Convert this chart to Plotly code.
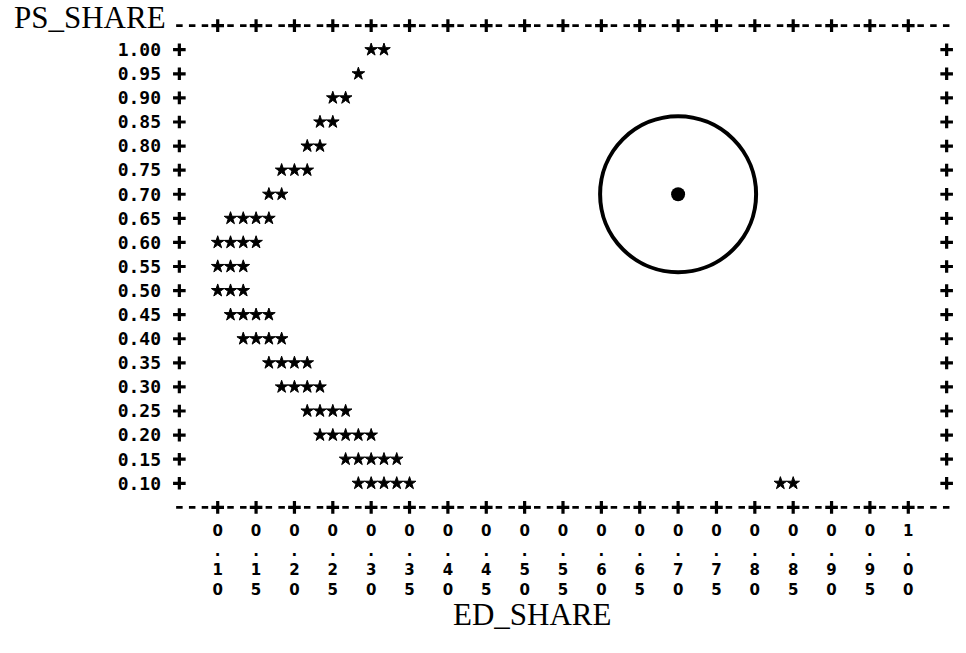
import plotly.graph_objects as go

# ---- data ----
ps_ticks = [1.00, 0.95, 0.90, 0.85, 0.80, 0.75, 0.70, 0.65, 0.60, 0.55,
            0.50, 0.45, 0.40, 0.35, 0.30, 0.25, 0.20, 0.15, 0.10]
ps_tick_labels = ["%.2f" % v for v in ps_ticks]

ed_ticks = [0.10, 0.15, 0.20, 0.25, 0.30, 0.35, 0.40, 0.45, 0.50, 0.55,
            0.60, 0.65, 0.70, 0.75, 0.80, 0.85, 0.90, 0.95, 1.00]
ed_tick_labels = ["0<br>.<br>1<br>0", "0<br>.<br>1<br>5", "0<br>.<br>2<br>0",
                  "0<br>.<br>2<br>5", "0<br>.<br>3<br>0", "0<br>.<br>3<br>5",
                  "0<br>.<br>4<br>0", "0<br>.<br>4<br>5", "0<br>.<br>5<br>0",
                  "0<br>.<br>5<br>5", "0<br>.<br>6<br>0", "0<br>.<br>6<br>5",
                  "0<br>.<br>7<br>0", "0<br>.<br>7<br>5", "0<br>.<br>8<br>0",
                  "0<br>.<br>8<br>5", "0<br>.<br>9<br>0", "0<br>.<br>9<br>5",
                  "1<br>.<br>0<br>0"]

# plotted observations ('*' symbols), one entry per star
ed_share = [0.3000, 0.3167,
            0.2833,
            0.2500, 0.2667,
            0.2333, 0.2500,
            0.2167, 0.2333,
            0.1833, 0.2000, 0.2167,
            0.1667, 0.1833,
            0.1167, 0.1333, 0.1500, 0.1667,
            0.1000, 0.1167, 0.1333, 0.1500,
            0.1000, 0.1167, 0.1333,
            0.1000, 0.1167, 0.1333,
            0.1167, 0.1333, 0.1500, 0.1667,
            0.1333, 0.1500, 0.1667, 0.1833,
            0.1667, 0.1833, 0.2000, 0.2167,
            0.1833, 0.2000, 0.2167, 0.2333,
            0.2167, 0.2333, 0.2500, 0.2667,
            0.2333, 0.2500, 0.2667, 0.2833, 0.3000,
            0.2667, 0.2833, 0.3000, 0.3167, 0.3333,
            0.2833, 0.3000, 0.3167, 0.3333, 0.3500, 0.8333, 0.8500]
ps_share = [1.00, 1.00,
            0.95,
            0.90, 0.90,
            0.85, 0.85,
            0.80, 0.80,
            0.75, 0.75, 0.75,
            0.70, 0.70,
            0.65, 0.65, 0.65, 0.65,
            0.60, 0.60, 0.60, 0.60,
            0.55, 0.55, 0.55,
            0.50, 0.50, 0.50,
            0.45, 0.45, 0.45, 0.45,
            0.40, 0.40, 0.40, 0.40,
            0.35, 0.35, 0.35, 0.35,
            0.30, 0.30, 0.30, 0.30,
            0.25, 0.25, 0.25, 0.25,
            0.20, 0.20, 0.20, 0.20, 0.20,
            0.15, 0.15, 0.15, 0.15, 0.15,
            0.10, 0.10, 0.10, 0.10, 0.10, 0.10, 0.10]

# highlighted point
target_ed = [0.70]
target_ps = [0.70]

# frame geometry (line-printer character grid: 3 columns per 0.05 of ED_SHARE)
col = 0.05 / 3
frame_left = 0.10 - 3.5 * col
frame_right = 1.00 + 3.5 * col
frame_top = 1.05
frame_bottom = 0.05
left_col = 0.10 - 3 * col
right_col = 1.00 + 3 * col

mono = "DejaVu Sans Mono"
sans = "DejaVu Sans"
serif = "Liberation Serif"

fig = go.Figure()

# top & bottom dashed borders
dash_off = 0.25 * col
for yb in (frame_top, frame_bottom):
    fig.add_trace(go.Scatter(
        x=[frame_left + dash_off, frame_right - dash_off], y=[yb, yb],
        mode="lines", line=dict(color="black", width=2.6, dash="6.5px,6.28px"),
        hoverinfo="skip", showlegend=False))

plus = dict(symbol="cross-thin-open", size=9, line=dict(color="black", width=3.2), color="black")
# '+' on top/bottom borders at the ticks
fig.add_trace(go.Scatter(x=ed_ticks * 2, y=[frame_top] * len(ed_ticks) + [frame_bottom] * len(ed_ticks),
                         mode="markers", marker=plus, hoverinfo="skip", showlegend=False))
# '+' on left/right borders at the ticks
fig.add_trace(go.Scatter(x=[left_col] * len(ps_ticks) + [right_col] * len(ps_ticks), y=ps_ticks * 2,
                         mode="markers", marker=plus, hoverinfo="skip", showlegend=False))

# stars
fig.add_trace(go.Scatter(x=ed_share, y=ps_share, mode="markers",
                         marker=dict(symbol="star", size=9.5, color="black",
                                     line=dict(color="black", width=1)),
                         showlegend=False))

# highlighted point and circle
fig.add_trace(go.Scatter(x=target_ed, y=target_ps, mode="markers",
                         marker=dict(symbol="circle", size=14, color="black"),
                         showlegend=False))
fig.add_shape(type="circle", xref="x", yref="y",
              xsizemode="pixel", ysizemode="pixel",
              xanchor=target_ed[0], yanchor=target_ps[0],
              x0=-78, x1=78, y0=-78, y1=78,
              line=dict(color="black", width=4))

fig.add_annotation(text="PS_SHARE", xref="x", yref="y", x=0.10 - 3.85 * col, y=1.066,
                   xanchor="right", yanchor="middle", showarrow=False,
                   font=dict(family=serif, size=31, color="black"))
fig.add_annotation(text="ED_SHARE", xref="paper", yref="paper", x=0.461, y=-0.195,
                   xanchor="center", yanchor="middle", showarrow=False,
                   font=dict(family=serif, size=31, color="black"))

fig.update_layout(
    width=966, height=653,
    margin=dict(l=164, r=4, t=16, b=136),
    paper_bgcolor="white", plot_bgcolor="white",
    showlegend=False,
    xaxis=dict(range=[0.03, 1.07], showgrid=False, zeroline=False, showline=False,
               tickmode="array", tickvals=ed_ticks,
               ticktext=["<b>" + t + "</b>" for t in ed_tick_labels],
               ticks="", ticklabelstandoff=3,
               tickfont=dict(family=sans, size=15, color="black", weight="bold")),
    yaxis=dict(range=[0.03, 1.07], showgrid=False, zeroline=False, showline=False,
               tickmode="array", tickvals=ps_ticks, ticktext=ps_tick_labels,
               ticks="", ticklabelstandoff=2,
               tickfont=dict(family=mono, size=18, color="black", weight="bold")),
)

fig.write_html("out.html")
